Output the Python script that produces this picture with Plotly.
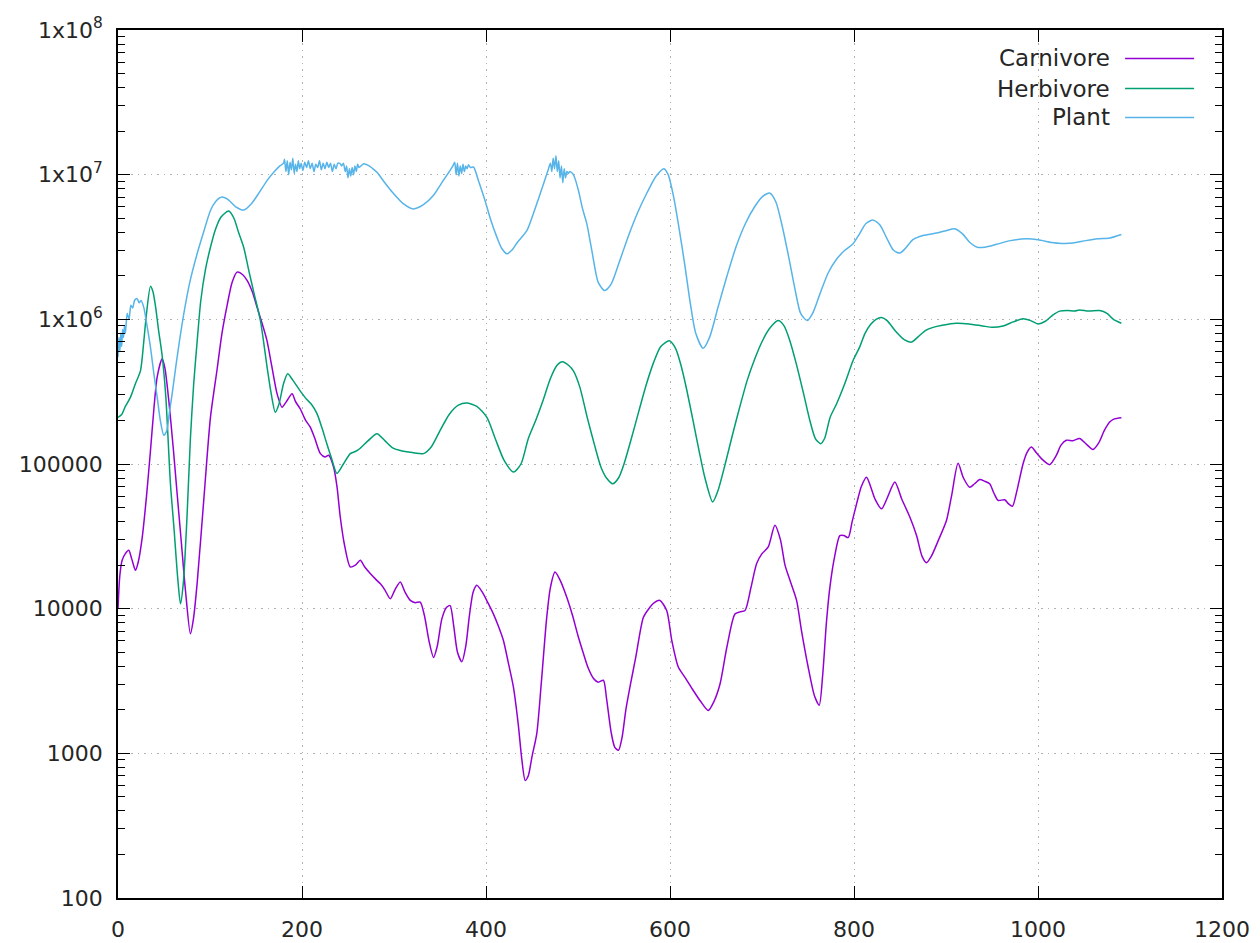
import plotly.graph_objects as go

series_names = ["Carnivore", "Herbivore", "Plant"]
series_colors = ["#9400d3", "#009e73", "#56b4e9"]

carnivore_x = [0, 2, 4.5, 8, 11.7, 15, 19, 22, 26.3, 31, 35.3, 39, 42.6, 48, 51, 55.2, 60, 64.3, 69, 73.3,
               78.7, 82, 86, 93.2, 100.5, 107.7, 113, 118.6, 124, 129.4, 135, 140.3, 146, 151.2, 157, 162,
               167, 172.9, 178.3, 183, 189.2, 193, 198.2, 204, 209, 214, 220, 225, 229, 234.4, 238, 241.6,
               246, 252.5, 258, 263.4, 268, 274.2, 280, 285, 290, 296, 301, 306.8, 312, 317.7, 323, 328.5,
               333, 338, 343, 347, 352, 357, 361, 365, 369, 373.8, 378, 382, 386, 390, 396, 402, 408, 413,
               419, 424, 429.8, 435, 439, 442.6, 446, 450, 455.2, 460, 466, 470, 475, 480, 487.8, 494, 500,
               505.9, 511, 516.7, 522, 527.6, 531, 536, 540, 544, 548, 552, 556.6, 563, 571, 577, 583, 589,
               596.4, 602, 609, 617, 625.3, 633, 641.6, 648, 654.3, 662, 670.6, 676, 681.5, 688, 694.2, 700,
               706.8, 714, 720, 725, 730.4, 737.6, 743, 750, 757, 762.2, 766, 770, 773.8, 779, 784.6, 789,
               793.7, 798, 802.8, 808, 813.6, 818, 823, 830, 836, 844.4, 852, 860.7, 868, 874, 878.8, 884,
               892, 900.5, 906, 913.1, 919, 925.8, 931, 936.7, 942, 947.5, 952, 956.6, 963.8, 968, 972.2,
               977, 983.7, 988, 992.8, 998, 1003.7, 1012.7, 1020, 1025, 1030.8, 1038, 1045.3, 1052, 1059.8,
               1066, 1072, 1077.9, 1083, 1090.6]
carnivore_y = [1.0e4, 1.7e4, 2.16e4, 2.4e4, 2.53e4, 2.2e4, 1.84e4, 2.1e4, 3.1e4, 6e4, 1.24e5, 2.4e5, 4.0e5,
               5.35e5, 4.6e5, 2.75e5, 1.3e5, 6.2e4, 2.8e4, 1.34e4, 6.7e3, 8.5e3, 1.49e4, 5.6e4, 2.1e5, 4.5e5,
               8e5, 1.25e6, 1.8e6, 2.12e6, 2.05e6, 1.86e6, 1.55e6, 1.21e6, 9.2e5, 7.1e5, 4.8e5, 3.06e5, 2.47e5,
               2.7e5, 3.06e5, 2.7e5, 2.4e5, 2.0e5, 1.8e5, 1.5e5, 1.18e5, 1.12e5, 1.15e5, 9.5e4, 7e4, 4.3e4,
               2.8e4, 1.94e4, 2.0e4, 2.16e4, 1.95e4, 1.75e4, 1.6e4, 1.49e4, 1.35e4, 1.17e4, 1.35e4, 1.53e4,
               1.3e4, 1.14e4, 1.1e4, 1.11e4, 9e3, 6e3, 4.6e3, 5.5e3, 8.5e3, 1.02e4, 1.05e4, 7.5e3, 5e3, 4.3e3,
               5.5e3, 9e3, 1.3e4, 1.45e4, 1.3e4, 1.1e4, 9.2e3, 7.7e3, 6.0e3, 4.3e3, 2.87e3, 1.6e3, 900, 650,
               700, 950, 1.37e3, 3e3, 8.7e3, 1.4e4, 1.79e4, 1.6e4, 1.2e4, 9e3, 6.5e3, 4.9e3, 3.9e3, 3.3e3,
               3.1e3, 3.2e3, 2.4e3, 1.4e3, 1.1e3, 1.05e3, 1.3e3, 2.0e3, 2.9e3, 4.7e3, 8.7e3, 1.0e4, 1.1e4,
               1.14e4, 9.7e3, 6e3, 3.95e3, 3.3e3, 2.72e3, 2.3e3, 1.98e3, 2.3e3, 3.0e3, 5.5e3, 9.2e3, 9.5e3,
               9.7e3, 1.4e4, 2.05e4, 2.4e4, 2.67e4, 3.77e4, 3.0e4, 2.0e4, 1.57e4, 1.14e4, 7e3, 4e3, 2.5e3,
               2.15e3, 3.5e3, 8e3, 1.41e4, 2.3e4, 3.2e4, 3.2e4, 3.1e4, 4e4, 5.3e4, 7e4, 8.1e4, 7e4, 5.7e4,
               4.9e4, 5.8e4, 7.5e4, 5.7e4, 4.3e4, 3.2e4, 2.3e4, 2.08e4, 2.3e4, 3.0e4, 4.07e4, 6e4, 1.01e5,
               8e4, 6.9e4, 7.3e4, 7.8e4, 7.6e4, 7.3e4, 6.3e4, 5.6e4, 5.66e4, 5.3e4, 5.1e4, 6.5e4, 1.0e5,
               1.2e5, 1.31e5, 1.2e5, 1.09e5, 9.9e4, 1.15e5, 1.35e5, 1.46e5, 1.45e5, 1.5e5, 1.38e5, 1.26e5,
               1.4e5, 1.7e5, 1.95e5, 2.05e5, 2.09e5]

herbivore_x = [0, 4, 8, 13.6, 19, 24.4, 28, 31, 35.3, 38, 41, 44, 48, 52, 57, 61, 65, 67.9, 71, 75, 78.7,
               82.3, 86, 90, 95, 100.5, 106, 112, 120.3, 126, 131, 136.6, 142, 148, 154.8, 162, 166, 171,
               175, 180, 184.4, 190, 198, 205, 210, 216.3, 222, 227, 232, 238, 245, 252.5, 258, 263, 272,
               281.5, 290, 298, 306.8, 320, 332, 340, 350, 360, 370, 379, 390, 401, 410, 420, 430, 438, 446,
               454, 462, 470, 477, 483, 490, 495, 502, 510, 518, 525, 531, 537.8, 544, 550, 558, 566, 574,
               582, 590, 599.3, 606, 612, 618, 625, 632, 638, 646.4, 652, 660, 668, 676, 684, 692, 700, 708,
               717.7, 724, 730, 737, 745, 752, 758, 763.7, 768, 774, 781, 790, 799, 806, 812, 818, 824, 830,
               836, 845, 855, 862.5, 870, 878, 886, 896, 911, 925, 940, 951, 962, 973, 983.7, 992, 1000,
               1008, 1016, 1023.6, 1032, 1040, 1045, 1055, 1067, 1075, 1082, 1090.6]
herbivore_y = [2.1e5, 2.2e5, 2.5e5, 2.9e5, 3.6e5, 4.4e5, 7e5, 1.1e6, 1.69e6, 1.55e6, 1.2e6, 8.5e5, 5.6e5,
               2.9e5, 7.3e4, 3.5e4, 1.6e4, 1.08e4, 1.5e4, 4.3e4, 1.5e5, 3.6e5, 7e5, 1.35e6, 2.2e6, 3.15e6,
               4.2e6, 5.1e6, 5.6e6, 5.0e6, 4.0e6, 3.15e6, 2.2e6, 1.5e6, 9.8e5, 4.7e5, 3.2e5, 2.28e5, 2.6e5,
               3.6e5, 4.2e5, 3.8e5, 3.2e5, 2.8e5, 2.6e5, 2.23e5, 1.75e5, 1.38e5, 1.1e5, 8.6e4, 1.0e5, 1.18e5,
               1.22e5, 1.28e5, 1.45e5, 1.62e5, 1.45e5, 1.3e5, 1.24e5, 1.2e5, 1.18e5, 1.3e5, 1.7e5, 2.2e5,
               2.55e5, 2.64e5, 2.5e5, 2.1e5, 1.5e5, 1.05e5, 8.8e4, 1.0e5, 1.5e5, 2.0e5, 2.75e5, 3.9e5, 4.8e5,
               5.1e5, 4.8e5, 4.4e5, 3.4e5, 2.1e5, 1.35e5, 9.5e4, 8e4, 7.3e4, 8e4, 1.0e5, 1.5e5, 2.3e5, 3.5e5,
               5.0e5, 6.5e5, 7.1e5, 6.3e5, 4.8e5, 3.3e5, 2.0e5, 1.2e5, 8e4, 5.46e4, 6.5e4, 1.0e5, 1.6e5,
               2.5e5, 3.8e5, 5.3e5, 7.0e5, 8.6e5, 9.8e5, 9.0e5, 7.2e5, 5.0e5, 3.1e5, 2.0e5, 1.5e5, 1.38e5,
               1.5e5, 2.1e5, 2.6e5, 3.6e5, 5.2e5, 6.4e5, 8e5, 9.2e5, 1.0e6, 1.03e6, 9.8e5, 8.3e5, 7.2e5,
               6.96e5, 7.6e5, 8.4e5, 8.8e5, 9.1e5, 9.4e5, 9.3e5, 9.0e5, 8.8e5, 9.0e5, 9.6e5, 1.01e6, 9.8e5,
               9.3e5, 9.7e5, 1.07e6, 1.14e6, 1.15e6, 1.14e6, 1.16e6, 1.14e6, 1.15e6, 1.1e6, 1.0e6, 9.4e5]

plant_x = [0, 1, 2, 3, 4, 5, 6, 7, 8, 10, 12, 14, 16, 18, 20.8, 23, 25, 28, 31, 35.3, 39, 42.6, 46, 49.8,
           53, 56, 58.9, 63, 67, 71.5, 78, 86, 93, 100.5, 106, 113, 120, 128, 136.6, 145, 154, 162, 170,
           176, 180, 181, 182.5, 184, 185.5, 187, 188.5, 190, 191.5, 193, 194.5, 196, 197.5, 199, 201, 203,
           205, 207, 209, 211, 213, 215, 217, 219, 221, 223, 225, 227, 229, 231, 233, 235, 237, 239, 241.6,
           243, 245, 247, 248.5, 250, 251.5, 253, 254.5, 256, 257.5, 259, 260.5, 262, 267, 272, 277, 281.5,
           290, 299.5, 310, 321, 332, 343, 352, 361, 364, 366, 367.5, 369, 370.5, 372, 373.5, 375, 376.5,
           378, 379.5, 381, 383, 386.4, 392, 399, 405, 411.8, 417, 422.7, 428, 434, 444.4, 452, 457, 462.4,
           467, 470, 471.5, 473, 474.5, 476, 477.5, 479, 480.5, 482, 483.5, 485, 486.5, 488, 489.5, 491,
           495, 500, 505, 509.5, 515, 522, 529, 536, 545, 555, 565, 575, 585, 593.5, 598, 604, 610, 616,
           622, 628, 636, 643, 652, 662, 672, 682, 692, 700, 708.6, 715, 722, 729, 736, 742, 749, 755, 763,
           772, 781, 790, 799, 806, 813, 820.8, 828, 836, 843, 849.8, 856, 864, 875, 890, 900, 909.5, 918,
           926, 934, 942, 955, 970, 987.4, 1000, 1015, 1026, 1038, 1052, 1065, 1078, 1090.6]
plant_y = [5.5e5, 7.5e5, 6e5, 8e5, 6.5e5, 8.5e5, 7.5e5, 9e5, 8e5, 1.1e6, 1.0e6, 1.25e6, 1.2e6, 1.35e6,
           1.39e6, 1.3e6, 1.35e6, 1.21e6, 9.5e5, 6.4e5, 4.2e5, 2.9e5, 2.0e5, 1.58e5, 1.7e5, 2.3e5, 3.06e5,
           4.8e5, 7.2e5, 1.09e6, 1.8e6, 2.84e6, 4.0e6, 5.66e6, 6.5e6, 7.0e6, 6.7e6, 6.0e6, 5.7e6, 6.3e6,
           7.6e6, 9.1e6, 1.05e7, 1.15e7, 1.2e7, 1.28e7, 1.05e7, 1.25e7, 1.0e7, 1.22e7, 1.08e7, 1.3e7,
           1.02e7, 1.18e7, 1.05e7, 1.25e7, 1.1e7, 1.2e7, 1.07e7, 1.22e7, 1.12e7, 1.25e7, 1.1e7, 1.2e7,
           1.05e7, 1.18e7, 1.12e7, 1.25e7, 1.08e7, 1.2e7, 1.1e7, 1.22e7, 1.12e7, 1.2e7, 1.05e7, 1.18e7,
           1.1e7, 1.2e7, 1.19e7, 1.15e7, 1.2e7, 1.05e7, 1.15e7, 9.5e6, 1.1e7, 9.8e6, 1.12e7, 1.0e7, 1.15e7,
           1.05e7, 1.18e7, 1.12e7, 1.19e7, 1.16e7, 1.1e7, 1.04e7, 8.8e6, 7.4e6, 6.3e6, 5.8e6, 6.2e6, 7.2e6,
           8.8e6, 1.07e7, 1.15e7, 1.22e7, 1.0e7, 1.2e7, 9.8e6, 1.15e7, 1.02e7, 1.18e7, 1.05e7, 1.15e7,
           1.1e7, 1.17e7, 1.12e7, 1.13e7, 9e6, 6.6e6, 4.9e6, 3.7e6, 3.1e6, 2.84e6, 3.0e6, 3.4e6, 4.1e6,
           5.5e6, 6.8e6, 8.6e6, 1.05e7, 1.2e7, 1.05e7, 1.3e7, 1.1e7, 1.35e7, 1.05e7, 1.25e7, 9.5e6, 1.15e7,
           8.8e6, 1.1e7, 9.5e6, 1.05e7, 1.02e7, 1.05e7, 1.0e7, 8e6, 5.8e6, 4.6e6, 3.0e6, 1.8e6, 1.58e6,
           1.75e6, 2.5e6, 3.8e6, 5.5e6, 7.5e6, 9.8e6, 1.1e7, 1.0e7, 7e6, 4.2e6, 2.4e6, 1.3e6, 8e5, 6.3e5,
           7.5e5, 1.2e6, 2.0e6, 3.2e6, 4.6e6, 6.0e6, 7.0e6, 7.45e6, 6.5e6, 4.4e6, 2.7e6, 1.6e6, 1.1e6,
           9.8e5, 1.1e6, 1.5e6, 2.1e6, 2.6e6, 3.0e6, 3.33e6, 3.9e6, 4.6e6, 4.85e6, 4.5e6, 3.6e6, 3.0e6,
           2.87e6, 3.1e6, 3.55e6, 3.8e6, 3.95e6, 4.1e6, 4.23e6, 3.9e6, 3.4e6, 3.15e6, 3.15e6, 3.3e6, 3.5e6,
           3.6e6, 3.55e6, 3.4e6, 3.35e6, 3.37e6, 3.5e6, 3.6e6, 3.65e6, 3.86e6]

y_tickvals = [1e2, 1e3, 1e4, 1e5, 1e6, 1e7, 1e8]
y_ticktext = ["100", "1000", "10000", "100000", "1x10<sup>6</sup>", "1x10<sup>7</sup>", "1x10<sup>8</sup>"]
x_tickvals = [0, 200, 400, 600, 800, 1000, 1200]
y_minor = [m * 10 ** e for e in range(2, 8) for m in range(2, 10)]

FONT = "DejaVu Sans"
TXT = "#262626"
fig = go.Figure()
for name, color, xs, ys in zip(series_names, series_colors,
                               [carnivore_x, herbivore_x, plant_x],
                               [carnivore_y, herbivore_y, plant_y]):
    fig.add_trace(go.Scatter(x=xs, y=ys, mode="lines", name=name,
                             line=dict(color=color, width=1.5, shape="spline", smoothing=0.7),
                             showlegend=False))

# gnuplot-style key (text right-aligned, sample line to the right)
key_rows = [0.9672, 0.9326, 0.8992]
for name, color, yp in zip(series_names, series_colors, key_rows):
    fig.add_annotation(x=0.9004, y=yp, xref="paper", yref="paper", text=name, showarrow=False,
                       xanchor="right", yanchor="middle", font=dict(family=FONT, size=23, color=TXT))
    fig.add_shape(type="line", xref="paper", yref="paper", x0=0.9122, x1=0.9747, y0=yp, y1=yp,
                  line=dict(color=color, width=1.5))

axis_common = dict(showline=True, linecolor="black", linewidth=1.5, mirror="all", ticks="inside",
                   tickcolor="black", tickwidth=1.2, ticklen=12, showgrid=True, gridcolor="#b0b0b0",
                   griddash="1.5px,5px", gridwidth=1, zeroline=False, automargin=False,
                   tickfont=dict(family=FONT, size=22, color=TXT))

fig.update_xaxes(range=[0, 1200], tickmode="array", tickvals=x_tickvals,
                 ticklabelstandoff=11, **axis_common)
fig.update_yaxes(type="log", range=[2, 8], tickmode="array", tickvals=y_tickvals, ticktext=y_ticktext,
                 ticklabelstandoff=9,
                 minor=dict(tickmode="array", tickvals=y_minor, ticks="inside", ticklen=7,
                            tickcolor="black", tickwidth=1.2, showgrid=False),
                 **axis_common)

# page body has an 8px margin, so the figure is shrunk and shifted accordingly
fig.update_layout(width=1252, height=935, margin=dict(l=110, r=38, t=22, b=45),
                  plot_bgcolor="white", paper_bgcolor="white", showlegend=False)

fig.write_html("out.html")
